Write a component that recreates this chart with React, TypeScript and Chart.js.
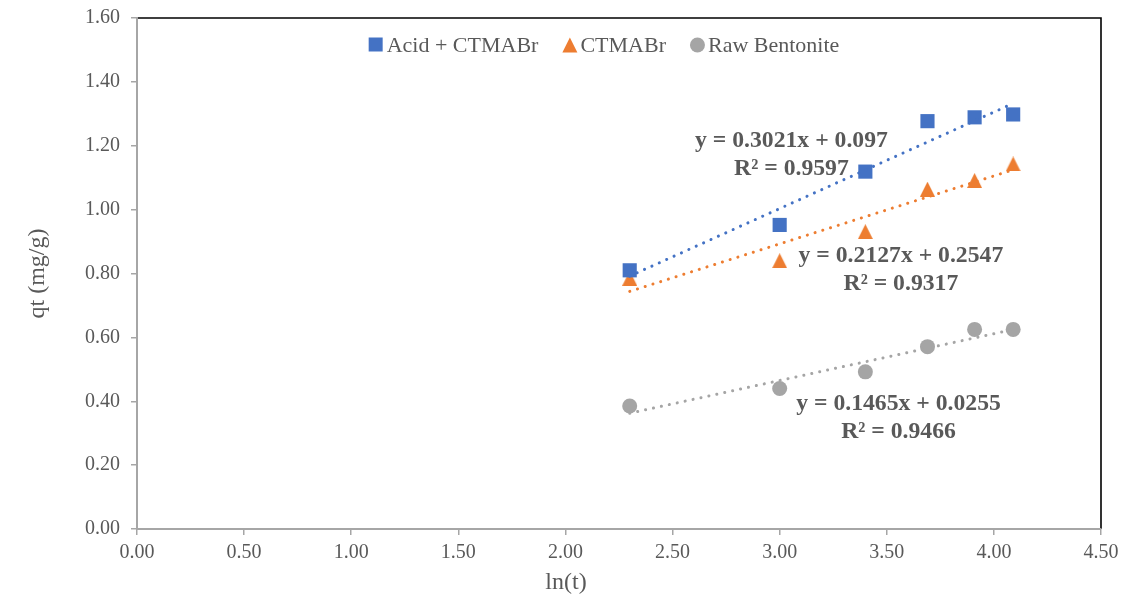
import React, { useEffect, useRef } from "react";
import { Chart, registerables } from "chart.js";

Chart.register(...registerables);

// ---- Data ----
const lnT = [2.3, 3.0, 3.4, 3.69, 3.91, 4.09];
const acidCtmabr = [0.81, 0.952, 1.119, 1.277, 1.289, 1.298];
const ctmabr = [0.785, 0.84, 0.931, 1.064, 1.091, 1.143];
const rawBentonite = [0.385, 0.44, 0.492, 0.571, 0.625, 0.625];

const seriesNames = ["Acid + CTMABr", "CTMABr", "Raw Bentonite"];
const seriesColors = ["#4472C4", "#ED7D31", "#A5A5A5"];
const seriesStyles = ["rect", "triangle", "circle"];

const trendSlopes = [0.3021, 0.2127, 0.1465];
const trendIntercepts = [0.097, 0.2547, 0.0255];
const trendEquations = ["y = 0.3021x + 0.097", "y = 0.2127x + 0.2547", "y = 0.1465x + 0.0255"];
const trendR2 = ["R² = 0.9597", "R² = 0.9317", "R² = 0.9466"];
// label anchor (data coords) of the equation text centre
const labelX = [3.055, 3.566, 3.555];
const labelY = [1.216, 0.856, 0.393];

const xTitle = "ln(t)";
const yTitle = "qt (mg/g)";

const TEXT = "#595959";
const AXIS = "#A6A6A6";
const FONT = "'Liberation Serif', 'Times New Roman', serif";

const seriesValues = [acidCtmabr, ctmabr, rawBentonite];

function triangleImage(color: string, w: number, h: number) {
  const c = document.createElement("canvas");
  c.width = w;
  c.height = h;
  const g = c.getContext("2d")!;
  g.fillStyle = color;
  g.beginPath();
  g.moveTo(w / 2, 0);
  g.lineTo(w, h);
  g.lineTo(0, h);
  g.closePath();
  g.fill();
  return c;
}

const decorPlugin = {
  id: "decor",
  beforeDraw(chart: any) {
    const { ctx, chartArea } = chart;
    ctx.save();
    ctx.fillStyle = "#ffffff";
    ctx.fillRect(0, 0, chart.width, chart.height);
    ctx.strokeStyle = "#000000";
    ctx.lineWidth = 1.6;
    ctx.beginPath();
    ctx.moveTo(chartArea.left, chartArea.top);
    ctx.lineTo(chartArea.right, chartArea.top);
    ctx.lineTo(chartArea.right, chartArea.bottom);
    ctx.stroke();
    ctx.restore();
  },
  afterDraw(chart: any) {
    const { ctx, chartArea, scales } = chart;
    ctx.save();
    // axis titles
    ctx.fillStyle = TEXT;
    ctx.font = `24px ${FONT}`;
    ctx.textAlign = "center";
    ctx.textBaseline = "middle";
    ctx.fillText(xTitle, chart.width / 2, 583);
    ctx.save();
    ctx.translate(38, (chartArea.top + chartArea.bottom) / 2);
    ctx.rotate(-Math.PI / 2);
    ctx.fillText(yTitle, 0, 0);
    ctx.restore();

    // trendline labels
    ctx.font = `bold 23.7px ${FONT}`;
    for (let i = 0; i < trendEquations.length; i++) {
      const px = scales.x.getPixelForValue(labelX[i]);
      const py = scales.y.getPixelForValue(labelY[i]);
      ctx.fillText(trendEquations[i], px, py);
      ctx.fillText(trendR2[i], px, py + 28);
    }

    // legend
    ctx.font = `22px ${FONT}`;
    const marker = 15;
    const gapAfterMarker = 3;
    const gapBetween = 24;
    const widths = seriesNames.map((n) => ctx.measureText(n).width);
    const total =
      widths.reduce((a, b) => a + b, 0) + seriesNames.length * (marker + gapAfterMarker) + gapBetween * (seriesNames.length - 1);
    let x = 604 - total / 2;
    const cy = 45;
    ctx.textAlign = "left";
    for (let i = 0; i < seriesNames.length; i++) {
      ctx.fillStyle = seriesColors[i];
      const mx = x + marker / 2;
      ctx.beginPath();
      if (seriesStyles[i] === "rect") {
        ctx.rect(x, cy - marker / 2, marker - 1, marker - 1);
      } else if (seriesStyles[i] === "triangle") {
        ctx.moveTo(mx, cy - marker / 2);
        ctx.lineTo(x + marker, cy + marker / 2);
        ctx.lineTo(x, cy + marker / 2);
        ctx.closePath();
      } else {
        ctx.arc(mx, cy, marker / 2, 0, Math.PI * 2);
      }
      ctx.fill();
      x += marker + gapAfterMarker;
      ctx.fillStyle = TEXT;
      ctx.fillText(seriesNames[i], x, cy + 1);
      x += widths[i] + gapBetween;
    }
    ctx.restore();
  },
};

export default function App() {
  const ref = useRef<HTMLCanvasElement | null>(null);
  useEffect(() => {
    if (!ref.current) return;
    const xMin = Math.min(...lnT);
    const xMax = Math.max(...lnT);
    const pointDatasets = seriesValues.map((vals, i) => ({
      type: "scatter" as const,
      label: seriesNames[i],
      data: lnT.map((x, j) => ({ x, y: vals[j] })),
      backgroundColor: seriesColors[i],
      borderColor: seriesColors[i],
      borderWidth: 0,
      pointStyle: seriesStyles[i] === "triangle" ? triangleImage(seriesColors[i], 15, 15) : seriesStyles[i],
      pointRadius: seriesStyles[i] === "rect" ? 10 : 7.5,
      showLine: false,
      order: 2,
    }));
    const trendDatasets = trendSlopes.map((m, i) => ({
      type: "scatter" as const,
      label: seriesNames[i] + " trend",
      data: [
        { x: xMin, y: m * xMin + trendIntercepts[i] },
        { x: xMax, y: m * xMax + trendIntercepts[i] },
      ],
      showLine: true,
      borderColor: seriesColors[i],
      borderWidth: 3,
      borderDash: [0.1, 8],
      borderCapStyle: "round",
      pointRadius: 0,
      fill: false,
      order: 1,
    }));
    const chart = new Chart(ref.current, {
      type: "scatter",
      data: { datasets: [...trendDatasets, ...pointDatasets] as any },
      options: {
        animation: false,
        responsive: false,
        devicePixelRatio: 1,
        layout: { padding: { top: 18, right: 31, left: 0, bottom: 0 } },
        plugins: { legend: { display: false }, tooltip: { enabled: false } },
        scales: {
          x: {
            type: "linear",
            min: 0,
            max: 4.5,
            ticks: {
              stepSize: 0.5,
              color: TEXT,
              font: { family: FONT, size: 20 },
              padding: 6,
              callback: (v: any) => Number(v).toFixed(2),
            },
            grid: { drawOnChartArea: false, drawTicks: true, tickLength: 6, color: AXIS, lineWidth: 1.5 },
            border: { color: AXIS, width: 2 },
            afterFit: (s: any) => {
              s.height = 71;
              s.paddingLeft = 0;
              s.paddingRight = 0;
            },
          },
          y: {
            type: "linear",
            min: 0,
            max: 1.6,
            ticks: {
              stepSize: 0.2,
              color: TEXT,
              font: { family: FONT, size: 20 },
              padding: 11,
              callback: (v: any) => Number(v).toFixed(2),
            },
            grid: { drawOnChartArea: false, drawTicks: true, tickLength: 6, color: AXIS, lineWidth: 1.5 },
            border: { color: AXIS, width: 2 },
            afterFit: (s: any) => {
              s.width = 137;
              s.paddingTop = 0;
              s.paddingBottom = 0;
            },
          },
        },
      },
      plugins: [decorPlugin],
    });
    return () => chart.destroy();
  }, []);
  return (
    <div style={{ position: "absolute", left: 0, top: 0, width: 1132, height: 600, background: "#fff" }}>
      <canvas ref={ref} width={1132} height={600} />
    </div>
  );
}
